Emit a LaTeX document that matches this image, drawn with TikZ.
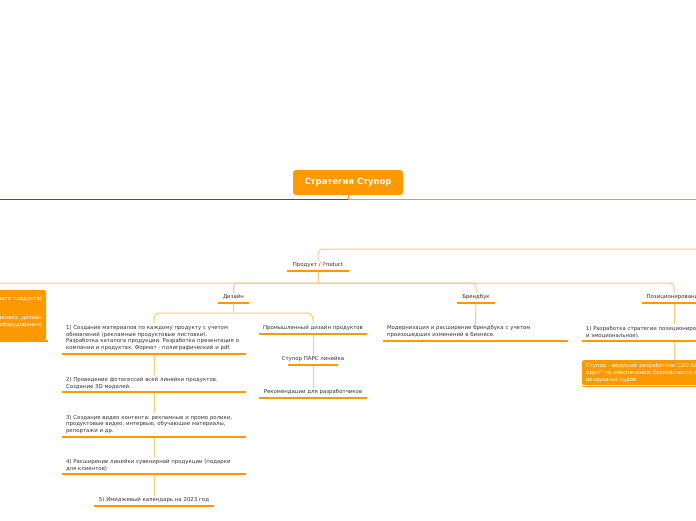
\documentclass[tikz,border=0pt]{standalone}
\usepackage{fontspec}
\setmainfont{DejaVu Sans}
\definecolor{mmorange}{HTML}{FF9900}
\definecolor{mmlight}{HTML}{FFC878}
\definecolor{mmblue}{HTML}{0055FF}
\definecolor{mmtext}{HTML}{333333}
\definecolor{mmred}{HTML}{E53935}
\newcommand\mmunder[1]{\draw[uline] ([yshift=-1.5pt]#1.south west) -- ([yshift=-1.5pt]#1.south east);}
\begin{document}
\frenchspacing
\begin{tikzpicture}[x=1pt,y=-1pt,
  topic/.style={inner xsep=4pt,inner ysep=1.5pt,font=\fontsize{5.4}{6.8}\selectfont,text=mmtext,anchor=south},
  boxtopic/.style={inner xsep=4pt,font=\fontsize{5.4}{6.8}\selectfont,text=white,fill=mmorange,rounded corners=1.5pt},
  root/.style={fill=mmorange,rounded corners=3pt,minimum width=110pt,minimum height=25pt,text=white,
    font=\bfseries\fontsize{8.5}{10}\selectfont,inner sep=0pt},
  conn/.style={draw=mmlight,line width=1pt},
  uline/.style={draw=mmorange,line width=2.6pt}]
\useasboundingbox (0,0) rectangle (696,520);
\clip (0,0) rectangle (696,520);

% root
\node[root] (root) at (348,182.5) {Стратегия Ступор};

% level nodes
\node[topic,text width=54pt,align=center] (prod) at (318,269.5) {Продукт / {\color{mmred}P}roduct};
\node[topic,text width=23pt,align=center] (des) at (233.5,301.5) {Дизайн};
\node[topic,text width=30pt,align=center] (brand) at (476,301.5) {Брендбук};
\node[topic,text width=56pt,align=center] (pos) at (674,301.5) {Позиционирование};

\node[boxtopic,minimum width=186pt,minimum height=50pt,text width=178pt,align=right,inner ysep=5pt] (lbox) at (-47,315)
  {Упаковка продуктов (для каждого продукта)\\[12.2pt]Производственный дизайн (упаковка, дизайн\\оборудования)\\~};

% design, left column
\node[topic,text width=176pt,align=left] (i1) at (154,352.5)
  {1) Создание материалов по каждому продукту с учетом\\обновлений (рекламные продуктовые листовки).\\Разработка каталога продукции. Разработка презентация о\\компании и продуктах. Формат - полиграфический и pdf.};
\node[topic,text width=176pt,align=left] (i2) at (154,390.5)
  {2) Проведение фотосессий всей линейки продуктов.\\Создание 3D моделей.};
\node[topic,text width=176pt,align=left] (i3) at (154,435.5)
  {3) Создание видео контента: рекламные и промо ролики,\\продуктовые видео, интервью, обучающие материалы,\\репортажи и др.};
\node[topic,text width=176pt,align=left] (i4) at (154,472.5)
  {4) Расширение линейки сувенирной продукции (подарки\\для клиентов)};
\node[topic,text width=111pt,align=center] (i5) at (154,504.5) {5) Имиджевый календарь на 2023 год};

% design, right column
\node[topic,text width=100pt,align=center] (r1) at (313,332.5) {Промышленный дизайн продуктов};
\node[topic] (r2) at (313,363.5) {Ступор ПАРС линейка};
\node[topic,text width=100pt,align=center] (r3) at (313,396.5) {Рекомендации для разработчиков};

% brandbook
\node[topic,text width=177pt,align=left] (bchild) at (475.5,339.5)
  {Модернизация и расширение брендбука с учетом\\произошедших изменений в бизнесе.};

% positioning
\node[topic,text width=176pt,align=left] (pchild) at (674,339.5)
  {1) Разработка стратегии позиционирования (рационально\\и эмоциональное).};
\node[boxtopic,minimum width=184pt,text width=176pt,align=left,inner ysep=3pt,anchor=north] (pbox) at (674,360)
  {Ступор - ведущий разработчик СЭО БЛА "номер\\один" по обеспечению безопасности современных\\воздушных судов};

% connectors
\coordinate (rj) at (348,199);
\coordinate (offL) at (-20,199);
\coordinate (offR) at (720,199);
\coordinate (offR2) at (720,249);
\coordinate (bus) at (318,283);
\coordinate (dj) at (233.5,313);
\draw[mmorange,line width=0.8pt] (root.south) -- (rj);
\draw[mmblue,line width=1pt] (rj) -- (offL);
\draw[mmorange,line width=1pt] (rj) -- (offR);
\draw[conn,rounded corners=5pt] (offR2) -| (prod.north);
\draw[conn] (prod.south) -- (bus);
\draw[conn,rounded corners=4pt] (bus) -| (lbox.north);
\draw[conn,rounded corners=4pt] (bus) -| (des.north);
\draw[conn,rounded corners=4pt] (bus) -| (brand.north);
\draw[conn,rounded corners=4pt] (bus) -| (pos.north);
\draw[conn] (des.south) -- (dj);
\draw[conn,rounded corners=6pt] (dj) -| (i1.north);
\draw[conn,rounded corners=6pt] (dj) -| (r1.north);
\draw[conn] (i1.south) -- (i2.north);
\draw[conn] (i2.south) -- (i3.north);
\draw[conn] (i3.south) -- (i4.north);
\draw[conn] (i4.south) -- (i5.north);
\draw[conn] (r1.south) -- (r2.north);
\draw[conn] (r2.south) -- (r3.north);
\draw[conn] (brand.south) -- (bchild.north);
\draw[conn] (pos.south) -- (pchild.north);
\draw[conn] (pchild.south) -- (pbox.north);

% underlines
\mmunder{prod}
\mmunder{des}
\mmunder{brand}
\mmunder{pos}
\mmunder{i1}
\mmunder{i2}
\mmunder{i3}
\mmunder{i4}
\mmunder{i5}
\mmunder{r1}
\draw[uline] ([xshift=-25pt,yshift=-1.5pt]r2.south) -- ([xshift=25pt,yshift=-1.5pt]r2.south);
\mmunder{r3}
\mmunder{bchild}
\mmunder{pchild}
\draw[draw=mmorange,line width=1.6pt] ([yshift=-1pt]lbox.south west) -- ([xshift=2pt,yshift=-1pt]lbox.south east);
\draw[draw=mmorange,line width=1.6pt] ([yshift=-1pt]pbox.south west) -- ([yshift=-1pt]pbox.south east);
\end{tikzpicture}
\end{document}
